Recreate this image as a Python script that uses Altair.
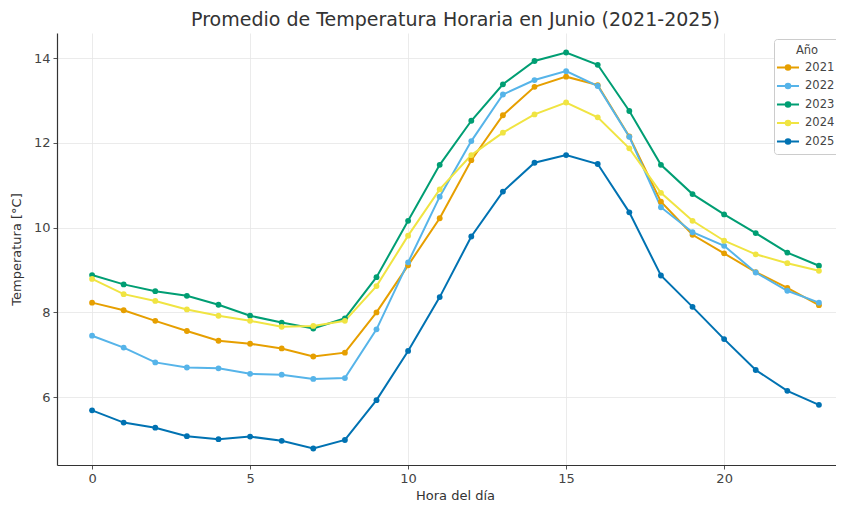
import altair as alt
import pandas as pd

hours = list(range(24))
years = ["2021", "2022", "2023", "2024", "2025"]
t2021 = [8.23, 8.05, 7.80, 7.56, 7.33, 7.26, 7.15, 6.96, 7.05, 8.00, 9.11, 10.22,
         11.59, 12.65, 13.32, 13.56, 13.36, 12.15, 10.61, 9.83, 9.39, 8.95, 8.58, 8.17]
t2022 = [7.45, 7.17, 6.82, 6.70, 6.68, 6.55, 6.53, 6.43, 6.45, 7.60, 9.18, 10.73,
         12.04, 13.14, 13.48, 13.69, 13.34, 12.14, 10.48, 9.89, 9.57, 8.94, 8.51, 8.23]
t2023 = [8.88, 8.66, 8.50, 8.39, 8.18, 7.92, 7.76, 7.62, 7.86, 8.83, 10.16, 11.48,
         12.52, 13.38, 13.93, 14.13, 13.84, 12.75, 11.48, 10.79, 10.31, 9.87, 9.41, 9.10]
t2024 = [8.79, 8.43, 8.27, 8.07, 7.92, 7.80, 7.66, 7.68, 7.80, 8.62, 9.81, 10.90,
         11.71, 12.24, 12.67, 12.95, 12.60, 11.87, 10.82, 10.16, 9.69, 9.37, 9.16, 8.98]
t2025 = [5.69, 5.40, 5.28, 5.08, 5.01, 5.07, 4.97, 4.79, 4.99, 5.93, 7.09, 8.36,
         9.79, 10.85, 11.53, 11.71, 11.50, 10.36, 8.87, 8.13, 7.37, 6.64, 6.15, 5.82]
colors = ["#E69F00", "#56B4E9", "#009E73", "#F0E442", "#0072B2"]

series = [t2021, t2022, t2023, t2024, t2025]
rows = []
for y, vals in zip(years, series):
    for h, v in zip(hours, vals):
        rows.append({"Hora": h, "Temp": v, "Año": y})
df = pd.DataFrame(rows)

FONT = "DejaVu Sans"
sym = "M-1.6,0L1.6,0M-0.33,0A0.33,0.33 0 1,0 0.33,0A0.33,0.33 0 1,0 -0.33,0Z"

chart = alt.Chart(df).mark_line(
    strokeWidth=2,
    point=alt.OverlayMarkDef(filled=True, size=34, opacity=1),
).encode(
    x=alt.X("Hora:Q", scale=alt.Scale(domain=[-1.11, 23.54], nice=False, zero=False),
            axis=alt.Axis(title="Hora del día", values=[0, 5, 10, 15, 20], format="d",
                          titleX=398, titleY=30, titleBaseline="middle")),
    y=alt.Y("Temp:Q", scale=alt.Scale(domain=[4.40, 14.59], nice=False, zero=False),
            axis=alt.Axis(title="Temperatura [°C]", values=[6, 8, 10, 12, 14], format="d",
                          titlePadding=10)),
    color=alt.Color("Año:N", scale=alt.Scale(domain=years, range=colors),
                    legend=alt.Legend(title="Año", orient="none", legendX=717, legendY=6,
                                      symbolType=sym, symbolSize=190, symbolStrokeWidth=2,
                                      padding=6, strokeColor="#cccccc", fillColor="#ffffff",
                                      cornerRadius=3, titleAnchor="middle",
                                      titleFontSize=11.5, titleFontWeight="normal",
                                      titleColor="#444444", labelFontSize=11.5,
                                      labelColor="#444444", rowPadding=3.5,
                                      labelOffset=9, titlePadding=3)),
).properties(
    width=779, height=432,
    autosize=alt.AutoSizeParams(type="none"),
    padding={"left": 49, "top": 25, "right": 0, "bottom": 43},
    title=alt.TitleParams("Promedio de Temperatura Horaria en Junio (2021-2025)",
                          fontSize=19, font=FONT, fontWeight="normal", color="#333333",
                          anchor="middle", dx=9, offset=3),
).configure(font=FONT).configure_view(
    stroke=None
).configure_axis(
    grid=True, gridColor="#e6e6e6", gridWidth=0.8,
    domainColor="#333333", domainWidth=1.2,
    tickColor="#555555", tickSize=4,
    labelFontSize=13, labelColor="#444444", labelFont=FONT, labelPadding=3,
    titleFontSize=13, titleColor="#333333", titleFont=FONT, titleFontWeight="normal",
).configure_legend(
    labelFont=FONT, titleFont=FONT,
)

chart.save("out.html", embed_options={"renderer": "svg", "actions": False})
